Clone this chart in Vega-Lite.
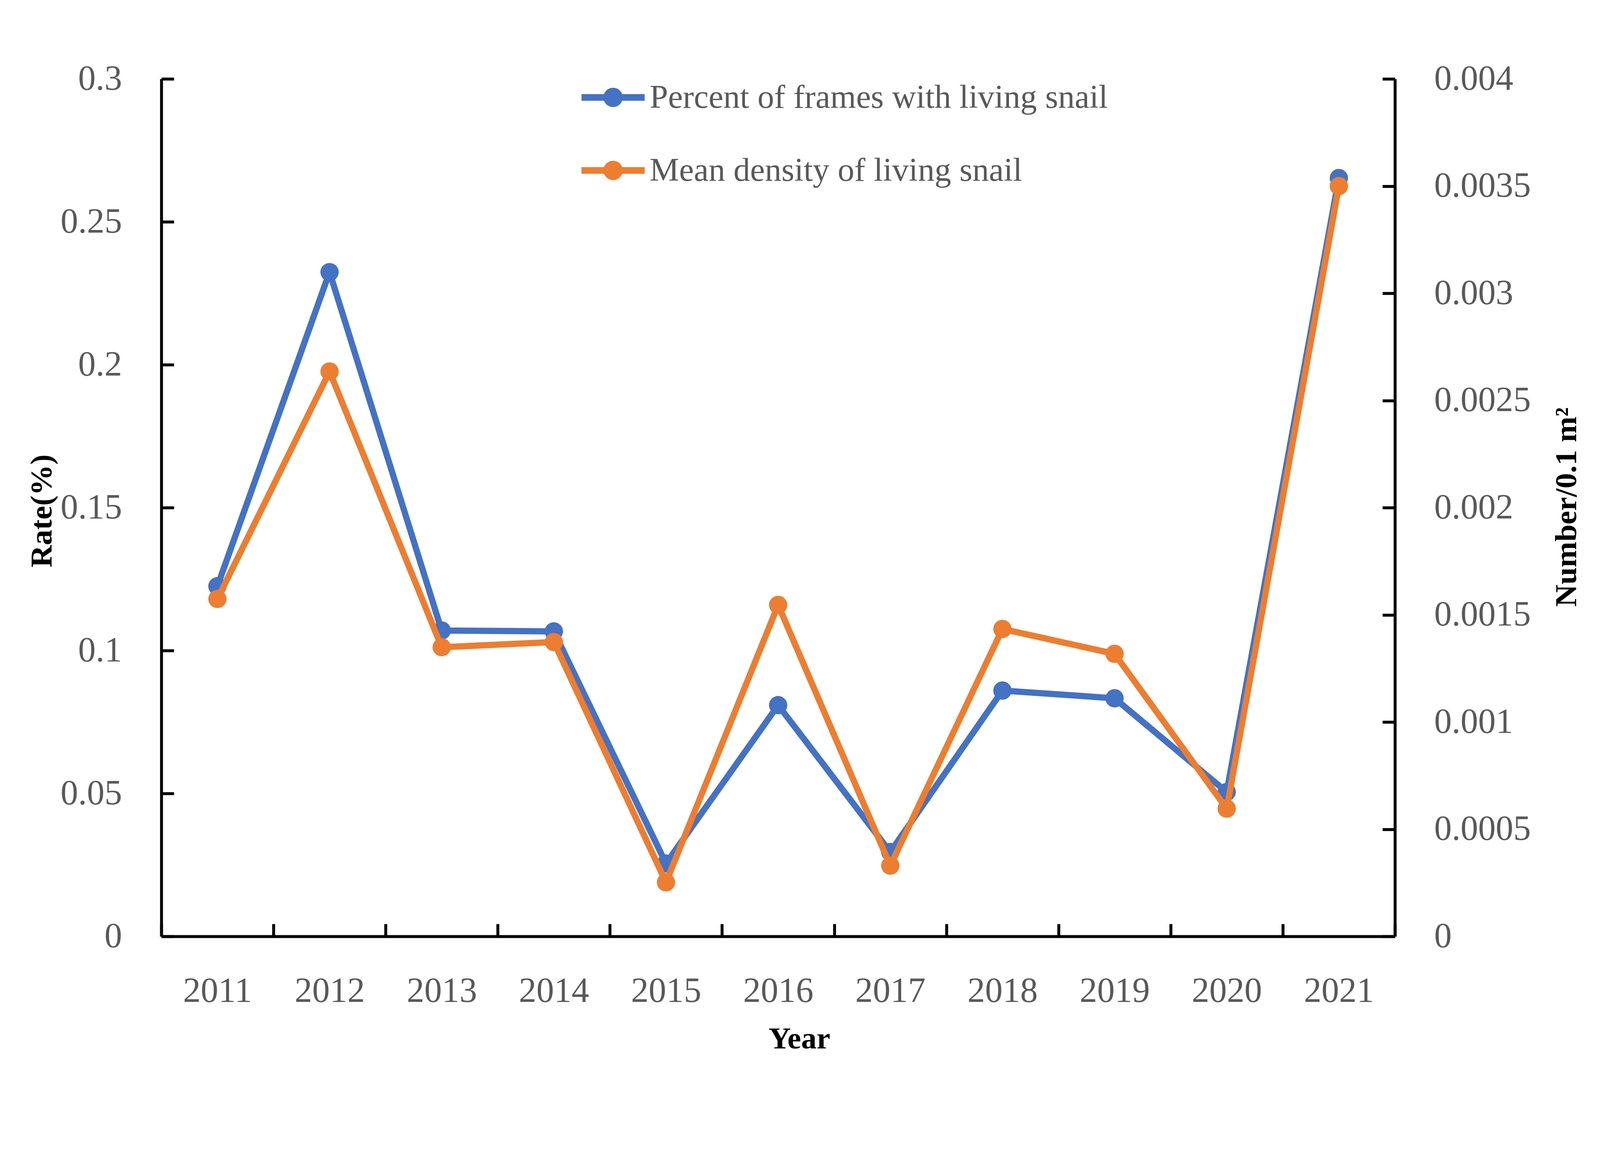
{
  "$schema": "https://vega.github.io/schema/vega-lite/v6.json",
  "autosize": "none",
  "width": 3158,
  "height": 2196,
  "padding": {"left": 413, "top": 202, "right": 527, "bottom": 425},
  "background": "white",
  "config": {
    "view": {"stroke": null},
    "font": "Liberation Serif",
    "axis": {
      "domainColor": "black",
      "domainWidth": 7.5,
      "tickColor": "black",
      "tickWidth": 7.5,
      "tickSize": -32,
      "grid": false,
      "labelFont": "Liberation Serif",
      "labelFontSize": 90,
      "labelColor": "#595959",
      "labelLimit": 2000,
      "labelOverlap": false,
      "titleFont": "Liberation Serif",
      "titleFontSize": 79,
      "titleFontWeight": "bold",
      "titleColor": "black",
      "titleLimit": 3000
    }
  },
  "data": {
    "values": [
      {"Year": "2011", "Rate": 0.1225, "Density": 0.001574},
      {"Year": "2012", "Rate": 0.2324, "Density": 0.002635},
      {"Year": "2013", "Rate": 0.1070, "Density": 0.001349},
      {"Year": "2014", "Rate": 0.1067, "Density": 0.001373},
      {"Year": "2015", "Rate": 0.0255, "Density": 0.000252},
      {"Year": "2016", "Rate": 0.0809, "Density": 0.001546},
      {"Year": "2017", "Rate": 0.0295, "Density": 0.00033},
      {"Year": "2018", "Rate": 0.0860, "Density": 0.001434},
      {"Year": "2019", "Rate": 0.0833, "Density": 0.001318},
      {"Year": "2020", "Rate": 0.0505, "Density": 0.000596},
      {"Year": "2021", "Rate": 0.2653, "Density": 0.0035}
    ]
  },
  "encoding": {
    "x": {
      "field": "Year",
      "type": "ordinal",
      "scale": {"type": "band", "paddingInner": 0, "paddingOuter": 0},
      "axis": {
        "title": "Year",
        "labelAngle": 0,
        "tickBand": "extent",
        "labelPadding": 199,
        "labelBaseline": "alphabetic",
        "titleX": 1633,
        "titleY": 286,
        "titleBaseline": "alphabetic",
        "titleAlign": "center"
      }
    }
  },
  "layer": [
    {
      "mark": {
        "type": "line",
        "strokeWidth": 16,
        "strokeCap": "round",
        "strokeJoin": "round",
        "point": {"filled": true, "size": 2200, "opacity": 1}
      },
      "encoding": {
        "y": {
          "field": "Rate",
          "type": "quantitative",
          "scale": {"domain": [0, 0.3], "nice": false},
          "axis": {
            "orient": "left",
            "title": "Rate(%)",
            "values": [0, 0.05, 0.1, 0.15, 0.2, 0.25, 0.3],
            "format": "~g",
            "labelPadding": 133,
            "labelBaseline": "middle",
            "titleAngle": 270,
            "titleX": -282,
            "titleY": 1106,
            "titleBaseline": "alphabetic",
            "titleAlign": "center"
          }
        },
        "color": {
          "datum": "Percent of frames with living snail",
          "type": "nominal",
          "scale": {
            "domain": ["Percent of frames with living snail", "Mean density of living snail"],
            "range": ["#4472C4", "#ED7D31"]
          },
          "legend": {
            "title": null,
            "orient": "none",
            "legendX": 1067,
            "legendY": -42,
            "padding": 0,
            "rowPadding": 47,
            "labelFont": "Liberation Serif",
            "labelFontSize": 85,
            "labelColor": "#595959",
            "labelLimit": 3000,
            "labelOffset": 4,
            "symbolSize": 26146,
            "symbolStrokeWidth": 17,
            "symbolType": "M-1,0L1,0M0.2,0A0.2,0.2,0,1,1,-0.2,0A0.2,0.2,0,1,1,0.2,0",
            "encode": {
              "symbols": {
                "update": {
                  "fill": {"scale": "color", "field": "value"},
                  "stroke": {"scale": "color", "field": "value"},
                  "opacity": {"value": 1}
                }
              }
            }
          }
        }
      }
    },
    {
      "mark": {
        "type": "line",
        "strokeWidth": 16,
        "strokeCap": "round",
        "strokeJoin": "round",
        "point": {"filled": true, "size": 2200, "opacity": 1}
      },
      "encoding": {
        "y": {
          "field": "Density",
          "type": "quantitative",
          "scale": {"domain": [0, 0.004], "nice": false},
          "axis": {
            "orient": "right",
            "title": "Number/0.1 m²",
            "values": [0, 0.0005, 0.001, 0.0015, 0.002, 0.0025, 0.003, 0.0035, 0.004],
            "format": "~g",
            "labelPadding": 132,
            "labelBaseline": "middle",
            "titleAngle": 270,
            "titleX": 463,
            "titleY": 1096,
            "titleBaseline": "alphabetic",
            "titleAlign": "center"
          }
        },
        "color": {
          "datum": "Mean density of living snail",
          "type": "nominal"
        }
      }
    }
  ],
  "resolve": {"scale": {"y": "independent"}}
}
